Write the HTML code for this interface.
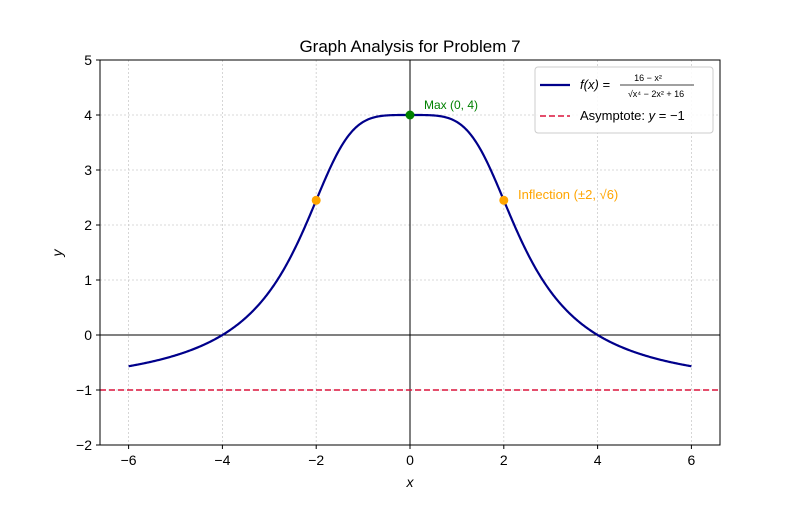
<!DOCTYPE html>
<html><head><meta charset="utf-8"><style>
body{margin:0;background:#fff;}
svg text{font-family:"Liberation Sans",sans-serif;}
</style></head><body>
<svg id="s" width="800" height="500" xmlns="http://www.w3.org/2000/svg">
<rect width="800" height="500" fill="#fff"/>
<g id="grid" stroke="#ccc" stroke-width="0.8" stroke-dasharray="2,2"></g>
<line x1="100" y1="335" x2="720" y2="335" stroke="#000" stroke-width="1"/>
<line x1="410" y1="60" x2="410" y2="445" stroke="#000" stroke-width="1"/>
<line x1="100" y1="390" x2="720" y2="390" stroke="#dc143c" stroke-width="1.5" stroke-dasharray="6,3"/>
<path id="curve" fill="none" stroke="#00008b" stroke-width="2.2"/>
<circle cx="410" cy="115" r="4.5" fill="green"/>
<circle cx="316.2" cy="200.3" r="4.5" fill="orange"/>
<circle cx="503.8" cy="200.3" r="4.5" fill="orange"/>
<text x="424" y="109" font-size="12" fill="green">Max (0, 4)</text>
<text x="518" y="199" font-size="13" fill="orange">Inflection (±2, √6)</text>
<rect x="100" y="60" width="620" height="385" fill="none" stroke="#000" stroke-width="1"/>
<g id="ticks" font-size="14" fill="#000"></g>
<text x="410" y="52" font-size="17" text-anchor="middle">Graph Analysis for Problem 7</text>
<text x="410" y="487" font-size="14" font-style="italic" text-anchor="middle">x</text>
<text x="62" y="253" font-size="14" font-style="italic" text-anchor="middle" transform="rotate(-90 62 253)">y</text>
<rect x="535" y="67" width="178" height="66" rx="3" fill="#fff" fill-opacity="0.85" stroke="#ccc"/>
<line x1="540" y1="85" x2="570" y2="85" stroke="#00008b" stroke-width="2.2"/>
<text x="580" y="89" font-size="13" font-style="italic">f(x) =</text>
<text x="648" y="81" font-size="9" text-anchor="middle">16 − x²</text>
<line x1="620" y1="85" x2="694" y2="85" stroke="#000" stroke-width="0.8"/>
<text x="656" y="97" font-size="9" text-anchor="middle">√x⁴ − 2x² + 16</text>
<line x1="540" y1="116" x2="570" y2="116" stroke="#dc143c" stroke-width="1.5" stroke-dasharray="6,3"/>
<text x="580" y="120" font-size="13">Asymptote: <tspan font-style="italic">y</tspan> = −1</text>
</svg>
<script>
var X=function(x){return 410+x*46.9},Y=function(y){return 335-y*55};
var g=document.getElementById('grid'),t=document.getElementById('ticks'),ns='http://www.w3.org/2000/svg',h='';
for(var i=-6;i<=6;i+=2){h+='<line x1="'+X(i)+'" y1="60" x2="'+X(i)+'" y2="445"/>';}
for(var j=-2;j<=5;j++){h+='<line x1="100" y1="'+Y(j)+'" x2="720" y2="'+Y(j)+'"/>';}
g.innerHTML=h;h='';
for(var i=-6;i<=6;i+=2){h+='<line x1="'+X(i)+'" y1="445" x2="'+X(i)+'" y2="449" stroke="#000"/><text x="'+X(i)+'" y="465" text-anchor="middle">'+(i<0?'−'+(-i):i)+'</text>';}
for(var j=-2;j<=5;j++){h+='<line x1="96" y1="'+Y(j)+'" x2="100" y2="'+Y(j)+'" stroke="#000"/><text x="92" y="'+(Y(j)+5)+'" text-anchor="end">'+(j<0?'−'+(-j):j)+'</text>';}
t.innerHTML=h;
var d='';for(var k=0;k<=600;k++){var x=-6+12*k/600,y=(16-x*x)/Math.sqrt(x*x*x*x-2*x*x+16);d+=(k?'L':'M')+X(x).toFixed(2)+' '+Y(y).toFixed(2);}
document.getElementById('curve').setAttribute('d',d);
</script>
</body></html>
